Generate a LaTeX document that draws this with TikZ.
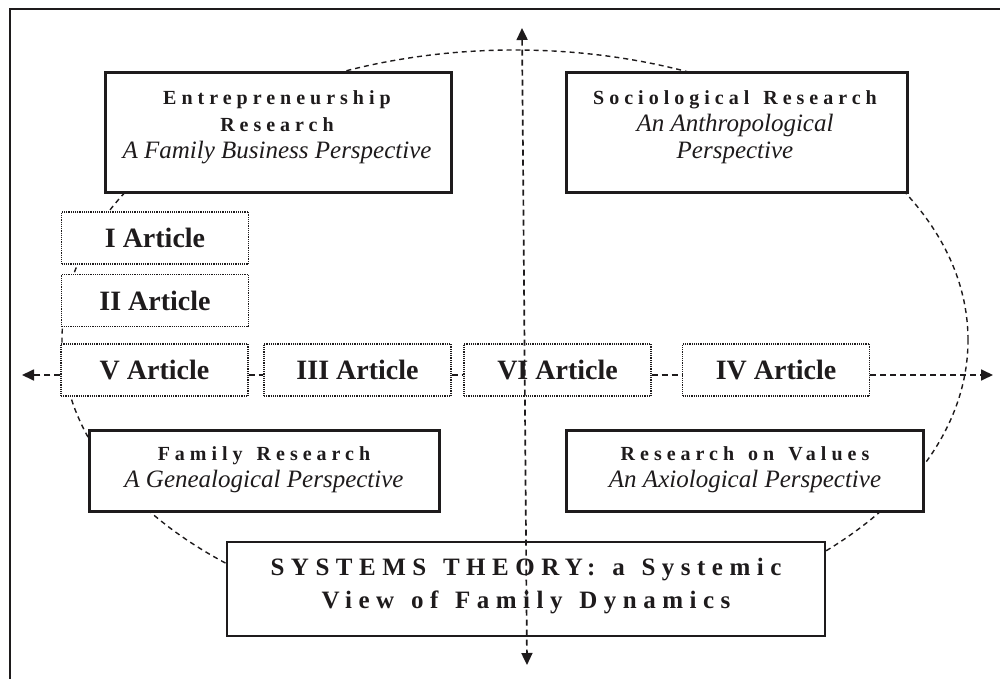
\documentclass[tikz,border=0pt]{standalone}
\usepackage{fontspec}
\setmainfont{Liberation Serif}
\newfontfamily\spacedfont[LetterSpace=25]{Liberation Serif}
\newfontfamily\widespacedfont[LetterSpace=26]{Liberation Serif}
\usetikzlibrary{arrows.meta}
\definecolor{ink}{RGB}{30,27,28}
% italic subtitle line inside a heading block
\newcommand\persp[1]{{\normalfont\fontsize{25}{27}\selectfont\itshape #1}}
% wider word gap for letter-spaced headings
\newcommand\wgap{\ \hspace{4pt}}

\begin{document}
\begin{tikzpicture}[x=1pt,y=-1pt,
  bigbox/.style={draw=ink, line width=3pt, fill=white, inner sep=0pt},
  thinbox/.style={draw=ink, line width=1.8pt, fill=white, inner sep=0pt},
  artbox/.style={draw=ink, line width=1.3pt, dash pattern=on 1.2pt off 1pt,
    fill=white, inner sep=0pt, minimum width=187pt, minimum height=52pt,
    font=\fontsize{28}{30}\selectfont\bfseries, text=ink},
  heading/.style={align=center, text=ink, inner sep=0pt,
    font=\fontsize{20}{27}\selectfont\spacedfont\bfseries},
  bigheading/.style={align=center, text=ink, inner sep=0pt,
    font=\fontsize{25}{33}\selectfont\widespacedfont\bfseries},
  ring/.style={draw=ink, line width=1.4pt, dash pattern=on 5pt off 4pt},
  axisline/.style={draw=ink, line width=1.7pt, dash pattern=on 6pt off 4pt},
  tip/.style={-{Triangle[length=12pt,width=11pt]}},
]
\useasboundingbox (0,0) rectangle (1000,679);

% outer frame
\draw[ink, line width=1.6pt] (10,700) -- (10,9) -- (1020,9);

% dashed ellipse behind everything
\draw[ring] (515,340) ellipse [x radius=453pt, y radius=290pt];

% free ends of the axes
\coordinate (hl) at (22,375);
\coordinate (hr) at (993,375);
\coordinate (vt) at (522,28);
\coordinate (vb) at (527,665);

% research domains
\node[bigbox, minimum width=346pt, minimum height=119pt] (ent) at (278,132.5) {};
\node[heading] (ent-t) at (277,127.5)
  {Entrepreneurship\\Research\\\persp{A Family Business Perspective}};

\node[bigbox, minimum width=341pt, minimum height=119pt] (soc) at (736.5,132.5) {};
\node[heading] (soc-t) at (735,127.5)
  {Sociological\wgap Research\\\persp{An Anthropological}\\\persp{Perspective}};

\node[bigbox, minimum width=350pt, minimum height=81pt] (fam) at (264,470.5) {};
\node[heading] (fam-t) at (264,469.5)
  {Family\wgap Research\\\persp{A Genealogical Perspective}};

\node[bigbox, minimum width=357pt, minimum height=81pt] (val) at (744.5,470.5) {};
\node[heading] (val-t) at (745,469.5)
  {Research\wgap on\wgap Values\\\persp{An Axiological Perspective}};

\node[thinbox, minimum width=598pt, minimum height=94pt] (sys) at (526,589) {};
\node[bigheading] (sys-t) at (526,586)
  {SYSTEMS\wgap THEORY:\wgap a\wgap Systemic\\View\wgap of\wgap Family\wgap Dynamics};

% articles
\node[artbox] (a1) at (155,238) {I Article};
\node[artbox] (a2) at (155,300.5) {II Article};
\node[artbox] (a5) at (154.5,370) {V Article};
\node[artbox] (a3) at (357.5,370) {III Article};
\node[artbox] (a6) at (557.5,370) {VI Article};
\node[artbox] (a4) at (776,370) {IV Article};

% horizontal axis through the article row
\draw[axisline, tip] ([yshift=-5pt]a5.west) -- (hl);
\draw[axisline] ([yshift=-5pt]a5.east) -- ([yshift=-5pt]a3.west);
\draw[axisline] ([yshift=-5pt]a3.east) -- ([yshift=-5pt]a6.west);
\draw[axisline] ([yshift=-5pt]a6.east) -- ([yshift=-5pt]a4.west);
\draw[axisline, tip] ([yshift=-5pt]a4.east) -- (hr);

% vertical axis on top
\draw[axisline, {Triangle[length=12pt,width=11pt]}-{Triangle[length=12pt,width=11pt]}] (vt) -- (vb);
\end{tikzpicture}
\end{document}
